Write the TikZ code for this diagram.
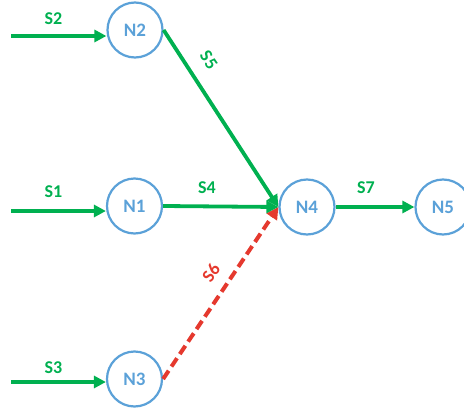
\documentclass[tikz,border=0pt]{standalone}
\usepackage{fontspec}
\setmainfont{Carlito}
\usetikzlibrary{arrows.meta}
\definecolor{cgreen}{HTML}{00B050}
\definecolor{cblue}{HTML}{5BA1D8}
\definecolor{cred}{HTML}{E5392E}
\begin{document}
\begin{tikzpicture}[x=1pt,y=-1pt,
  nd/.style={circle,draw=cblue,line width=2.2pt,minimum size=55pt,inner sep=0pt,text=cblue,font=\fontsize{19}{22}\selectfont\bfseries},
  flow/.style={draw=cgreen,line width=3.8pt,-{Triangle[length=12pt,width=12pt]}},
  badflow/.style={draw=cred,line width=4pt,dash pattern=on 10pt off 5pt,-{Triangle[length=12pt,width=12pt]}},
  lbl/.style={text=cgreen,font=\fontsize{18}{21}\selectfont\bfseries,inner sep=0pt},
  redlbl/.style={lbl,text=cred}]
\useasboundingbox (0,0) rectangle (464,410);
\node[nd] (N2) at (135,30) {N2};
\node[nd] (N1) at (134.5,206) {N1};
\node[nd] (N3) at (134.5,379) {N3};
\node[nd] (N4) at (307,207) {N4};
\node[nd] (N5) at (443,207) {N5};
\coordinate (i2) at (11,36);
\coordinate (i1) at (11,211);
\coordinate (i3) at (11,382);
\draw[flow] (i2) -- (N2.west |- i2);
\draw[flow] (i1) -- (N1.west |- i1);
\draw[flow] (i3) -- (N3.west |- i3);
\draw[badflow] (N3.east) -- (N4.west);
\draw[flow] (N2.east) -- (N4.west);
\draw[flow] (N1.east) -- (N4.west);
\draw[flow] (N4.east) -- (N5.west);
\node[lbl] (l2) at (53.5,19) {S2};
\node[lbl] (l1) at (53.5,192) {S1};
\node[lbl] (l3) at (53.5,367.5) {S3};
\node[lbl] (l4) at (207,188) {S4};
\node[lbl] (l7) at (366,187.5) {S7};
\node[lbl,rotate=-56] (l5) at (209,60) {S5};
\node[redlbl,rotate=55] (l6) at (211,273) {S6};
\end{tikzpicture}
\end{document}
